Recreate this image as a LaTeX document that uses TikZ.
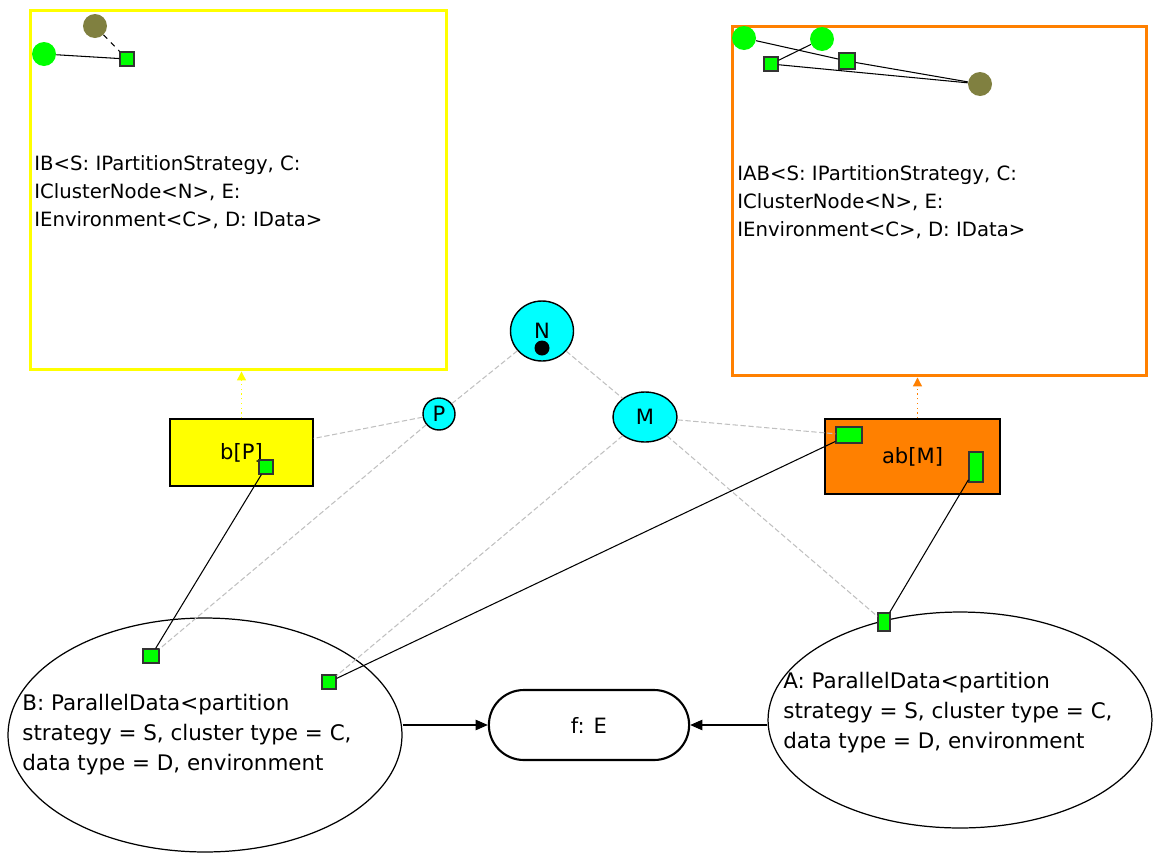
\documentclass[tikz,border=0pt]{standalone}
\usepackage{fontspec}
\setmainfont{DejaVu Sans}
\usepackage{tikz}
\usetikzlibrary{arrows.meta,shapes.geometric,shapes.misc}
\definecolor{kutuSari}{HTML}{FFFF00}
\definecolor{kutuTuruncu}{HTML}{FF8000}
\definecolor{dugumCamgobegi}{HTML}{00FFFF}
\definecolor{portYesil}{HTML}{00FF00}
\definecolor{tipZeytin}{HTML}{808040}
\definecolor{bagGri}{HTML}{C0C0C0}

\begin{document}
\begin{tikzpicture}[x=0.02cm,y=-0.02cm,
  cerceve/.style={draw,line width=1.7pt,minimum width=#1},
  port/.style={draw=black!80,fill=portYesil,line width=0.7pt,inner sep=0pt},
  tipnokta/.style={circle,fill=#1,inner sep=0pt,minimum size=0.48cm},
  bag/.style={bagGri,line width=0.6pt,dash pattern=on 3pt off 1.5pt},
  tel/.style={black,line width=0.6pt},
  etiket/.style={font=\fontsize{12}{14}\selectfont},
  metin/.style={align=left,inner sep=0pt,anchor=north west}]
\useasboundingbox (0,0) rectangle (1154,853);
\node[cerceve=8.34cm,draw=kutuSari,minimum height=7.2cm] (IB) at (238.5,190) {};
\node[cerceve=8.3cm,draw=kutuTuruncu,minimum height=7.0cm] (IAB) at (939.5,201) {};
\node[metin,font=\fontsize{11.2}{15.9}\selectfont] (IBtext) at (34,155) {IB<S: IPartitionStrategy, C:\\IClusterNode<N>, E:\\IEnvironment<C>, D: IData>};
\node[metin,font=\fontsize{11.2}{15.9}\selectfont] (IABtext) at (737,165) {IAB<S: IPartitionStrategy, C:\\IClusterNode<N>, E:\\IEnvironment<C>, D: IData>};
\node[tipnokta=tipZeytin] (ibO) at (95,26) {};
\node[tipnokta=portYesil] (ibG) at (44,54) {};
\node[port,minimum size=0.28cm] (ibS) at (127,59) {};
\draw[tel] (ibG) -- (ibS);
\draw[tel,dashed] (ibO) -- (ibS);
\node[tipnokta=portYesil] (iabG1) at (744,38) {};
\node[tipnokta=portYesil] (iabG2) at (822,39) {};
\node[tipnokta=tipZeytin] (iabO) at (980,84) {};
\node[port,minimum size=0.28cm] (iabS1) at (771,64) {};
\node[port,minimum size=0.32cm] (iabS2) at (847,61) {};
\draw[tel] (iabG1) -- (iabS2);
\draw[tel] (iabS1) -- (iabG2);
\draw[tel] (iabS1) -- (iabO);
\draw[tel] (iabS2) -- (iabO);
\node[ellipse,draw,fill=dugumCamgobegi,line width=0.8pt,minimum width=1.26cm,minimum height=1.2cm,etiket] (N) at (542,331) {N};
\node[circle,fill=black,inner sep=0pt,minimum size=0.3cm] (Ndot) at (542,348) {};
\node[circle,draw,fill=dugumCamgobegi,line width=0.8pt,minimum size=0.64cm,inner sep=0pt,etiket] (P) at (439,414) {P};
\node[ellipse,draw,fill=dugumCamgobegi,line width=0.8pt,minimum width=1.28cm,minimum height=1.0cm,etiket] (M) at (645,417) {M};
\node[draw,fill=kutuSari,line width=0.8pt,minimum width=2.86cm,minimum height=1.34cm,etiket] (bP) at (241.5,452.5) {b[P]};
\node[draw,fill=kutuTuruncu,line width=0.8pt,minimum width=3.5cm,minimum height=1.5cm,etiket] (abM) at (912.5,456.5) {ab[M]};
\node[port,minimum size=0.28cm] (bPport) at (266,467) {};
\node[port,minimum width=0.52cm,minimum height=0.32cm] (abMportL) at (849,435) {};
\node[port,minimum width=0.28cm,minimum height=0.6cm] (abMportR) at (976,467) {};
\node[ellipse,draw,line width=0.7pt,minimum width=7.88cm,minimum height=4.68cm] (B) at (205,735) {};
\node[ellipse,draw,line width=0.7pt,minimum width=7.68cm,minimum height=4.32cm] (A) at (960,720) {};
\node[metin,font=\fontsize{12.2}{17}\selectfont] (Btext) at (22,694) {B: ParallelData<partition\\strategy = S, cluster type = C,\\data type = D, environment};
\node[metin,font=\fontsize{12.2}{17}\selectfont] (Atext) at (783,672) {A: ParallelData<partition\\strategy = S, cluster type = C,\\data type = D, environment};
\node[port,minimum width=0.32cm,minimum height=0.28cm] (Bport1) at (151,656) {};
\node[port,minimum size=0.28cm] (Bport2) at (329,682) {};
\node[port,minimum width=0.24cm,minimum height=0.36cm] (Aport) at (884,622) {};
\node[rounded rectangle,draw,line width=1.2pt,minimum width=4.24cm,minimum height=1.4cm,etiket] (f) at (589,725) {f: E};
\draw[bag] (N) -- (P);
\draw[bag] (N) -- (M);
\draw[bag] (P) -- (bP);
\draw[bag] (P) -- (Bport1);
\draw[bag] (M) -- (abMportL);
\draw[bag] (M) -- (Bport2);
\draw[bag] (M) -- (Aport);
\draw[tel] (Bport1) -- (bPport);
\draw[tel] (Bport2) -- (abMportL);
\draw[tel] (Aport) -- (abMportR);
\draw[kutuSari,line width=0.7pt,dotted,-{Triangle[length=5pt,width=5pt]}] (bP.north) -- (bP.north |- IB.south);
\draw[kutuTuruncu,line width=0.7pt,dotted,-{Triangle[length=5pt,width=5pt]}] ([xshift=0.1cm]abM.north) -- ([xshift=0.1cm]abM.north |- IAB.south);
\draw[tel,-{Triangle[length=7pt,width=6pt]}] (B.east |- f.west) -- (f.west);
\draw[tel,-{Triangle[length=7pt,width=6pt]}] (A.west |- f.east) -- (f.east);
\end{tikzpicture}
\end{document}
